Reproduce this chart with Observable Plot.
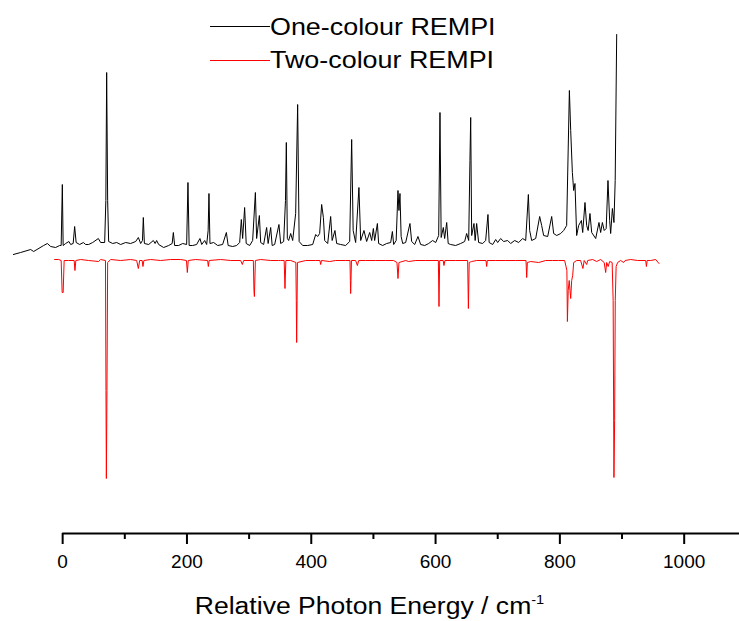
<!DOCTYPE html>
<html>
<head>
<meta charset="utf-8">
<script src="https://cdn.jsdelivr.net/npm/d3@7"></script>
<script src="https://cdn.jsdelivr.net/npm/@observablehq/plot@0.6"></script>
<style>
  html, body { margin: 0; padding: 0; background: #fff; }
  #wrap { position: relative; width: 739px; height: 621px; overflow: hidden; font-family: "Liberation Sans", Arial, sans-serif; }
  .lg-line { position: absolute; left: 210px; width: 60px; height: 0; }
  .lg-text { position: absolute; left: 270px; font-size: 24px; line-height: 24px; white-space: nowrap; color: #000; transform: scaleX(1.12); transform-origin: left center; }
  #xtitle { position: absolute; left: 0; width: 739px; top: 595px; text-align: center; font-size: 23.5px; line-height: 23.5px; white-space: nowrap; transform: scaleX(1.13); transform-origin: center center; }
  #xtitle sup { font-size: 0.55em; vertical-align: 0.75em; line-height: 0; }
</style>
</head>
<body>
<div id="wrap"></div>
<script>
// Series labels
const seriesNames = ["One-colour REMPI", "Two-colour REMPI"];
const seriesColors = ["#000000", "#ff0000"];

// X axis ticks
const majorTicks = [0, 200, 400, 600, 800, 1000];
const minorTicks = [100, 300, 500, 700, 900];

// One-colour REMPI (arbitrary intensity, offset above baseline)
const oneColourX = [-79.3,-67.6,-51.5,-46.7,-30.6,-24.6,-19.3,-11.3,-4.8,-2.4,-0.5,0.8,4.8,10.1,12.9,16.9,19.3,21.7,27.4,33.3,37.0,41.8,48.3,57.4,61.1,67.6,69.5,70.8,72.4,74.0,80.5,86.9,93.3,101.4,109.4,117.5,121.8,125.5,128.4,129.8,131.5,138.4,145.9,148.8,151.2,154.5,162.5,170.6,176.2,178.1,180.2,186.6,193.1,199.5,201.6,203.5,209.2,215.6,220.9,223.7,228.5,231.7,234.1,235.4,237.0,243.0,249.4,257.4,263.4,266.3,273.5,280.0,284.8,287.5,289.6,292.8,295.3,300.9,305.7,310.1,312.1,316.5,318.6,323.4,328.2,330.6,334.7,337.1,341.1,348.0,350.8,355.6,358.5,359.9,361.5,363.6,366.9,370.1,374.9,378.1,380.5,386.2,394.2,402.3,407.1,410.3,413.5,416.7,419.5,421.6,426.4,431.2,433.6,438.1,440.9,447.3,455.3,461.8,465.0,467.4,471.4,476.7,479.5,484.8,489.1,494.0,497.2,499.9,502.0,506.4,508.4,514.9,521.3,527.8,530.5,532.6,536.6,539.5,541.1,542.7,544.6,547.1,551.9,558.8,561.5,566.4,571.7,576.0,582.5,588.9,595.3,600.2,605.0,607.1,609.0,612.5,614.6,617.9,620.3,624.3,632.3,640.4,646.8,650.0,653.3,655.3,656.5,658.1,661.8,663.7,666.1,669.3,675.8,680.6,684.3,686.2,691.9,696.7,699.9,704.7,709.6,716.0,720.8,727.3,733.7,740.1,745.0,749.3,751.4,754.6,761.1,767.5,770.7,773.9,780.4,786.8,790.0,794.9,801.3,806.1,810.9,815.3,817.4,820.1,822.2,824.3,827.0,830.2,834.6,836.7,840.4,843.1,845.5,848.4,851.2,857.6,862.9,865.6,868.4,871.3,874.5,877.4,880.1,881.7,884.5,887.0,889.0,891.4];
const oneColourY = [5,7,10,8,14,16,13,12,14,14,75,14,16,18,15,16,33,17,15,17,15,15,17,21,17,17,59,187,59,18,16,17,15,17,16,18,22,16,19,42,16,15,19,16,19,15,12,14,16,27,14,14,16,15,77,14,14,15,21,15,19,15,29,66,16,17,14,15,27,14,13,14,17,40,21,52,16,14,19,67,21,44,17,15,32,16,32,14,15,35,16,18,59,117,21,19,26,19,46,155,18,14,14,15,25,23,26,55,42,19,16,43,19,29,16,15,14,18,120,29,17,72,19,29,18,27,19,31,19,36,16,14,16,17,28,15,19,69,49,66,23,16,17,36,18,15,23,15,14,16,19,17,24,147,22,32,21,37,16,15,14,16,18,26,19,99,142,24,36,19,36,17,16,19,45,17,15,20,17,21,18,19,16,19,17,21,19,65,29,19,21,43,34,24,23,43,26,24,26,29,34,169,129,87,69,76,24,34,39,27,57,34,29,46,27,21,37,27,37,29,31,79,39,26,51,37,79,225];

// Two-colour REMPI (drawn inverted below)
const twoColourX = [-12.9,-6.4,-2.4,-0.8,0.8,2.4,9.7,18.5,19.8,21.2,29.0,41.8,57.9,61.1,68.9,69.7,70.3,71.3,72.4,77.2,93.3,109.4,119.1,121.8,123.9,127.9,129.2,130.7,141.6,157.7,173.8,189.9,199.2,200.6,202.1,214.0,233.3,234.4,235.7,254.2,270.3,286.4,289.1,291.2,306.8,307.8,308.5,310.1,318.6,334.7,347.5,350.8,356.4,357.7,359.1,366.9,375.2,375.9,376.5,377.8,391.0,407.1,414.0,415.1,416.4,429.6,439.3,455.3,462.3,462.9,463.4,464.7,471.4,474.2,476.3,487.5,503.6,519.7,532.6,537.9,539.5,541.1,551.9,556.7,568.0,584.1,604.5,605.5,606.6,612.2,613.5,615.0,632.3,651.6,652.8,654.1,658.1,666.1,681.1,682.2,683.3,696.7,712.8,728.9,745.5,746.6,747.7,753.0,765.9,777.1,788.4,798.1,807.7,811.3,812.1,813.4,815.0,817.4,819.0,820.6,822.2,827.0,833.4,837.1,839.1,843.1,844.7,852.8,859.2,865.6,871.3,873.7,875.3,877.7,880.1,884.1,885.7,887.0,888.1,889.1,890.5,892.9,897.8,902.6,905.0,913.9,925.2,938.1,939.2,940.5,946.1,954.2,959.5];
const twoColourY = [0,0,-1,-33,-33,-1,-1,-1,-11,-1,0,-1,-2,0,-1,-131,-219,-131,-3,0,-1,0,-1,-9,-1,-1,-7,-1,0,-1,0,0,-1,-13,-1,0,-1,-7,-1,0,-1,-1,-5,-1,-1,-31,-37,-1,0,-1,-1,-1,-1,-29,-1,-1,-3,-41,-83,-3,-1,-1,-1,-5,-1,-2,-1,-1,-1,-21,-34,-1,-1,-6,-1,-1,-1,-1,-1,-3,-19,-3,-1,-2,-1,-1,-1,-47,-1,-1,-6,-1,-1,-1,-49,-3,-2,-1,-1,-7,-1,-1,-1,-1,-1,-18,-3,-2,-3,-1,-1,-1,-1,-11,-62,-31,-21,-39,-21,-16,-3,-1,-1,-9,-1,-5,-1,0,-2,0,-3,-13,-3,-7,-2,-3,-41,-218,-161,-41,-7,-3,-1,-3,-1,0,-1,-1,-7,-1,-1,0,-4];

const xDomain = [-100, 1089];
const yDomain = [-274, 259];

const one = oneColourX.map((x, i) => ({x, y: oneColourY[i]}));
const two = twoColourX.map((x, i) => ({x, y: twoColourY[i]}));

const chart = Plot.plot({
  width: 739,
  height: 621,
  marginTop: 0,
  marginBottom: 88,
  marginLeft: 0,
  marginRight: 0,
  style: {fontFamily: "'Liberation Sans', Arial, sans-serif", background: "transparent", color: "#000"},
  x: {domain: xDomain, axis: null},
  y: {domain: yDomain, axis: null},
  marks: [
    Plot.line(one, {x: "x", y: "y", stroke: seriesColors[0], strokeWidth: 1}),
    Plot.line(two, {x: "x", y: "y", stroke: seriesColors[1], strokeWidth: 1}),
    Plot.ruleY([yDomain[0]], {x1: majorTicks[0], x2: xDomain[1], stroke: "#000", strokeWidth: 2}),
    Plot.axisX(majorTicks, {tickSize: 11, tickPadding: 10, strokeWidth: 2, fontSize: 19, label: null, tickFormat: d => String(d)}),
    Plot.axisX(minorTicks, {tickSize: 6, strokeWidth: 2, label: null, tickFormat: () => ""})
  ]
});

const wrap = document.getElementById("wrap");
wrap.appendChild(chart);

// Legend (HTML overlay)
const legendTops = [25.5, 59.5];
const textTops = [15, 48];
seriesNames.forEach((name, i) => {
  const ln = document.createElement("div");
  ln.className = "lg-line";
  ln.style.top = legendTops[i] + "px";
  ln.style.borderTop = "1px solid " + seriesColors[i];
  wrap.appendChild(ln);
  const tx = document.createElement("div");
  tx.className = "lg-text";
  tx.style.top = textTops[i] + "px";
  tx.textContent = name;
  wrap.appendChild(tx);
});

// Axis title
const title = document.createElement("div");
title.id = "xtitle";
title.innerHTML = "Relative Photon Energy / cm<sup>-1</sup>";
wrap.appendChild(title);
</script>
</body>
</html>
